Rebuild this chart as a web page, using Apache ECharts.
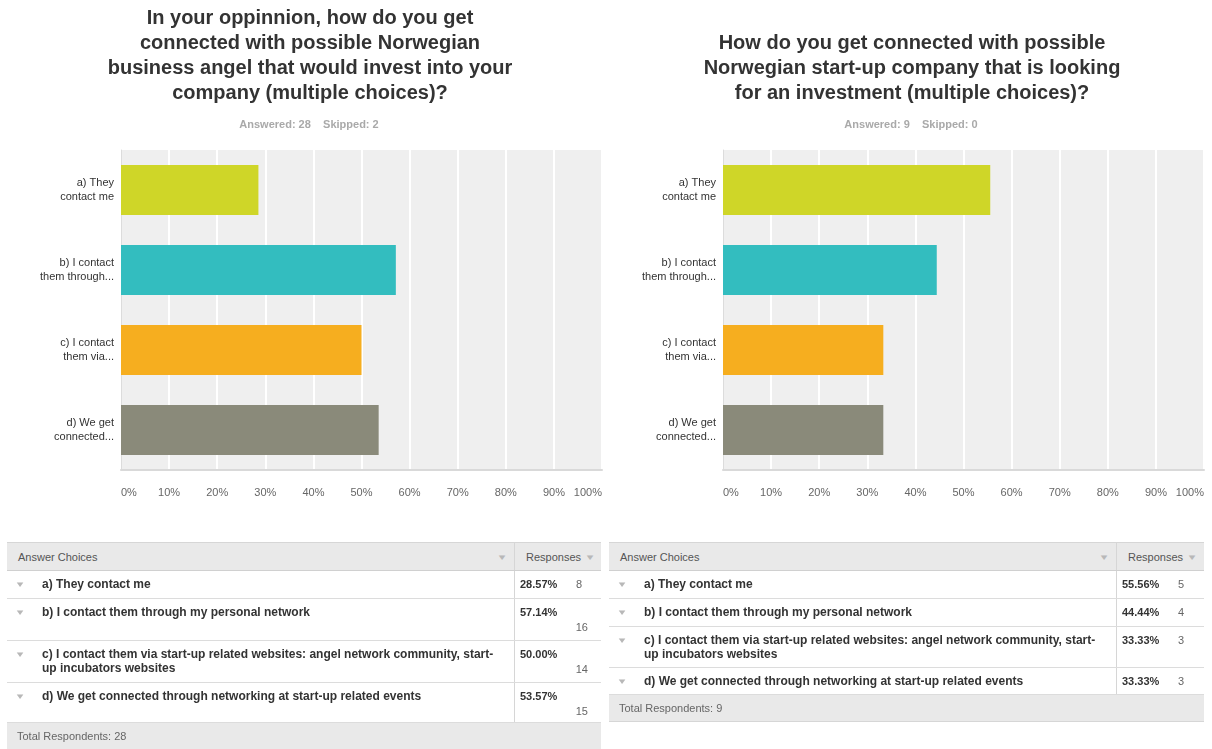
<!DOCTYPE html>
<html>
<head>
<meta charset="utf-8">
<script src="https://cdn.jsdelivr.net/npm/echarts@6/dist/echarts.min.js"></script>
<style>
  html, body { margin: 0; padding: 0; background: #fff; }
  #chart { position: absolute; left: 0; top: 0; width: 1212px; height: 749px; }
  .tbl { position: absolute; font-family: "Liberation Sans", Arial, sans-serif; font-size: 11px; color: #333; }
  .row { position: relative; border-bottom: 1px solid #dcdcdc; box-sizing: border-box; }
  .hdr { background: #e9e9e9; border-top: 1px solid #d6d6d6; border-bottom: 1px solid #d0d0d0; height: 29px; color: #555; }
  .foot { background: #e9e9e9; color: #666; border-bottom: 1px solid #d6d6d6; box-sizing: border-box; }
  .divider { position: absolute; top: 0; bottom: 0; width: 1px; background: #d6d6d6; }
  .arrow { position: absolute; color: #b8b8b8; font-size: 8px; transform: scaleX(1.4); }
  .choice { position: absolute; font-weight: bold; font-size: 12px; line-height: 14px; }
  .pct { position: absolute; font-weight: bold; }
  .cnt { position: absolute; color: #666; text-align: right; }
</style>
</head>
<body>
<div id="chart"></div>
<div id="tables"></div>
<script>
// Survey answers (shared by both questions)
const shortLabels = ['a) They\ncontact me', 'b) I contact\nthem through...', 'c) I contact\nthem via...', 'd) We get\nconnected...'];
const fullChoices = [
  'a) They contact me',
  'b) I contact them through my personal network',
  'c) I contact them via start-up related websites: angel network community, start-up incubators websites',
  'd) We get connected through networking at start-up related events'
];
const choiceLines = [
  ['a) They contact me'],
  ['b) I contact them through my personal network'],
  ['c) I contact them via start-up related websites: angel network community, start-', 'up incubators websites'],
  ['d) We get connected through networking at start-up related events']
];
const barColors = ['#cfd628', '#33bdbf', '#f6ae1f', '#8a8a7a'];
const xTicks = [0, 10, 20, 30, 40, 50, 60, 70, 80, 90, 100];

// Question 1: start-ups looking for business angels
const q1Title = 'In your oppinnion, how do you get\nconnected with possible Norwegian\nbusiness angel that would invest into your\ncompany (multiple choices)?';
const q1Answered = 28, q1Skipped = 2;
const q1Percent = [28.57, 57.14, 50.00, 53.57];
const q1Count = [8, 16, 14, 15];

// Question 2: angels looking for start-ups
const q2Title = 'How do you get connected with possible\nNorwegian start-up company that is looking\nfor an investment (multiple choices)?';
const q2Answered = 9, q2Skipped = 0;
const q2Percent = [55.56, 44.44, 33.33, 33.33];
const q2Count = [5, 4, 3, 3];

const FONT = '"Liberation Sans", Arial, sans-serif';
const chart = echarts.init(document.getElementById('chart'), null, { renderer: 'canvas' });

function titleBlock(text, cx, top) {
  return {
    text: text, left: cx, top: top, textAlign: 'center',
    textStyle: { fontFamily: FONT, fontSize: 20, fontWeight: 'bold', color: '#333', lineHeight: 25 }
  };
}
function subBlock(text, cx, top) {
  return {
    text: text, left: cx, top: top, textAlign: 'center',
    textStyle: { fontFamily: FONT, fontSize: 11, fontWeight: 'bold', color: '#a9a9a9' }
  };
}
function xAxisFor(gi) {
  return {
    type: 'value', gridIndex: gi, min: 0, max: 100, interval: 10,
    axisLine: { show: true, lineStyle: { color: '#d9d9d9', width: 2 } },
    axisTick: { show: false },
    splitLine: { show: true, lineStyle: { color: '#ffffff', width: 2 } },
    axisLabel: {
      fontFamily: FONT, fontSize: 11, color: '#666', margin: 17,
      formatter: '{value}%', customValues: xTicks,
      alignMinLabel: 'left', alignMaxLabel: 'right'
    }
  };
}
function yAxisFor(gi) {
  return {
    type: 'category', gridIndex: gi, inverse: true, data: shortLabels,
    axisLine: { show: true, lineStyle: { color: '#dcdcdc', width: 1 } },
    axisTick: { show: false },
    axisLabel: { fontFamily: FONT, fontSize: 11, color: '#333', lineHeight: 14, align: 'right', margin: 7 }
  };
}
function barSeries(gi, values) {
  return {
    type: 'bar', xAxisIndex: gi, yAxisIndex: gi, barWidth: 50,
    data: values.map((v, i) => ({ value: v, itemStyle: { color: barColors[i] } })),
    silent: true
  };
}

chart.setOption({
  animation: false,
  title: [
    titleBlock(q1Title, 305, 1),
    subBlock('Answered: ' + q1Answered + '    Skipped: ' + q1Skipped, 304, 114),
    titleBlock(q2Title, 907, 26),
    subBlock('Answered: ' + q2Answered + '    Skipped: ' + q2Skipped, 906, 114)
  ],
  grid: [
    { left: 121, top: 150, width: 481, height: 320, show: true, backgroundColor: '#efefef', borderWidth: 0 },
    { left: 723, top: 150, width: 481, height: 320, show: true, backgroundColor: '#efefef', borderWidth: 0 }
  ],
  xAxis: [xAxisFor(0), xAxisFor(1)],
  yAxis: [yAxisFor(0), yAxisFor(1)],
  series: [barSeries(0, q1Percent), barSeries(1, q2Percent)]
});

// Response tables beneath each chart
function buildTable(opts) {
  const t = document.createElement('div');
  t.className = 'tbl';
  t.style.left = opts.left + 'px';
  t.style.top = opts.top + 'px';
  t.style.width = opts.width + 'px';
  const split = opts.split;

  const h = document.createElement('div');
  h.className = 'row hdr';
  h.innerHTML =
    '<span style="position:absolute;left:11px;top:8px">Answer Choices</span>' +
    '<span class="arrow" style="left:' + (split - 16) + 'px;top:10px">&#9660;</span>' +
    '<div class="divider" style="left:' + split + 'px"></div>' +
    '<span style="position:absolute;left:' + (split + 12) + 'px;top:8px">Responses</span>' +
    '<span class="arrow" style="left:' + (split + 72) + 'px;top:10px">&#9660;</span>';
  t.appendChild(h);

  opts.percent.forEach((p, i) => {
    const r = document.createElement('div');
    r.className = 'row';
    r.style.height = opts.heights[i] + 'px';
    const lines = choiceLines[i].join('<br>');
    const cntTop = opts.wrapCount[i] ? 22 : 7;
    const cntLeft = opts.wrapCount[i] ? split + 58 : split + 52;
    r.innerHTML =
      '<span class="arrow" style="left:9px;top:9px">&#9660;</span>' +
      '<span class="choice" style="left:35px;top:6px" title="' + fullChoices[i] + '">' + lines + '</span>' +
      '<div class="divider" style="left:' + split + 'px"></div>' +
      '<span class="pct" style="left:' + (split + 6) + 'px;top:7px">' + p.toFixed(2) + '%</span>' +
      '<span class="cnt" style="left:' + cntLeft + 'px;top:' + cntTop + 'px;width:16px">' + opts.count[i] + '</span>';
    t.appendChild(r);
  });

  const f = document.createElement('div');
  f.className = 'foot';
  f.style.height = '27px';
  f.style.position = 'relative';
  f.innerHTML = '<span style="position:absolute;left:10px;top:7px">Total Respondents: ' + opts.total + '</span>';
  t.appendChild(f);
  document.getElementById('tables').appendChild(t);
}

buildTable({
  left: 7, top: 542, width: 594, split: 507,
  percent: q1Percent, count: q1Count, total: q1Answered,
  heights: [28, 42, 42, 40], wrapCount: [false, true, true, true]
});
buildTable({
  left: 609, top: 542, width: 595, split: 507,
  percent: q2Percent, count: q2Count, total: q2Answered,
  heights: [28, 28, 41, 27], wrapCount: [false, false, false, false]
});
</script>
</body>
</html>
